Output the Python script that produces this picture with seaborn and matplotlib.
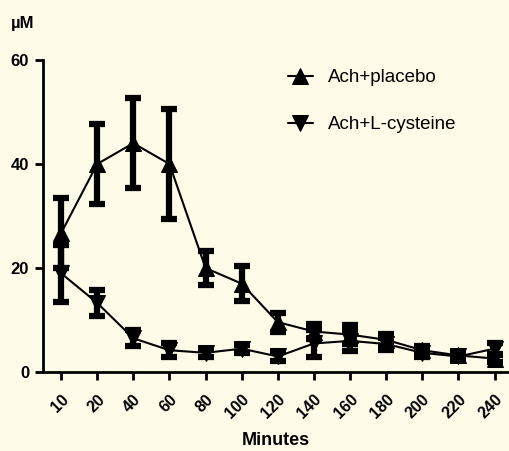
import numpy as np
import pandas as pd
import seaborn as sns
import matplotlib
matplotlib.use("Agg")
import matplotlib.pyplot as plt

minutes = ["10", "20", "40", "60", "80", "100", "120", "140", "160", "180", "200", "220", "240"]
placebo_mean = [26.7, 40.0, 44.0, 40.0, 20.0, 17.0, 9.6, 7.8, 7.2, 6.2, 4.2, 3.2, 2.6]
placebo_err = [6.7, 7.6, 8.7, 10.5, 3.2, 3.3, 1.8, 1.5, 1.8, 1.2, 0.8, 0.6, 0.7]
cyst_mean = [19.0, 13.3, 6.5, 4.2, 3.7, 4.5, 3.0, 5.5, 6.0, 5.4, 3.7, 3.0, 4.5]
cyst_err = [5.5, 2.5, 1.5, 1.3, 0.8, 0.8, 0.8, 2.6, 2.0, 1.2, 0.8, 0.6, 1.0]

BG = "#fefbe9"
sns.set_theme(style="ticks")
plt.rcParams["font.family"] = ["Liberation Sans", "DejaVu Sans"]
plt.rcParams["text.color"] = "black"
plt.rcParams["axes.labelcolor"] = "black"
plt.rcParams["xtick.color"] = "black"
plt.rcParams["ytick.color"] = "black"

pos = np.arange(len(minutes))
df = pd.concat([
    pd.DataFrame({"pos": pos, "value": placebo_mean, "err": placebo_err, "group": "Ach+placebo"}),
    pd.DataFrame({"pos": pos, "value": cyst_mean, "err": cyst_err, "group": "Ach+L-cysteine"}),
])

fig = plt.figure(figsize=(5.09, 4.51), dpi=100, facecolor=BG)
ax = fig.add_axes([0.0845, 0.175, 0.9155, 0.692])
ax.set_facecolor(BG)

for name in ["Ach+placebo", "Ach+L-cysteine"]:
    sub = df[df.group == name]
    eb = ax.errorbar(sub.pos, sub.value, yerr=sub.err, fmt="none", ecolor="black",
                     elinewidth=4.5, capsize=5.5, capthick=4.5, zorder=2)
    for ln in eb.lines[1]:
        ln.set_solid_capstyle("round")
        ln.set_dash_capstyle("round")

sns.lineplot(data=df, x="pos", y="value", style="group", markers={"Ach+placebo": "^", "Ach+L-cysteine": "v"},
             dashes=False, color="black", linewidth=1.5, markersize=11, markeredgecolor="black",
             ax=ax, zorder=3, legend=True)

ax.set_xlim(-0.5, 12.4)
ax.set_ylim(0, 60)
ax.set_yticks([0, 20, 40, 60])
ax.set_yticklabels(["0", "20", "40", "60"], fontweight="bold", fontsize=12)
ax.set_xticks(pos)
ax.set_xticklabels(minutes, rotation=45, ha="right", rotation_mode="anchor", fontweight="bold", fontsize=11.5)
ax.tick_params(axis="both", length=6, width=2, color="black", pad=4)
ax.tick_params(axis="x", pad=8)
for s in ["left", "bottom"]:
    ax.spines[s].set_linewidth(2)
    ax.spines[s].set_color("black")
sns.despine(ax=ax)
ax.set_xlabel("Minutes", fontweight="bold", fontsize=13, labelpad=8, color="black")
ax.set_ylabel("")
fig.text(0.022, 0.948, "µM", fontweight="bold", fontsize=12, ha="left", va="center", color="black")

leg = ax.legend(loc="upper left", bbox_to_anchor=(0.49, 1.025), frameon=False, fontsize=13.5,
                handlelength=1.3, labelspacing=1.6, handletextpad=0.8)
for t in leg.get_texts():
    t.set_color("black")

fig.savefig("out.png", dpi=100, facecolor=BG)
